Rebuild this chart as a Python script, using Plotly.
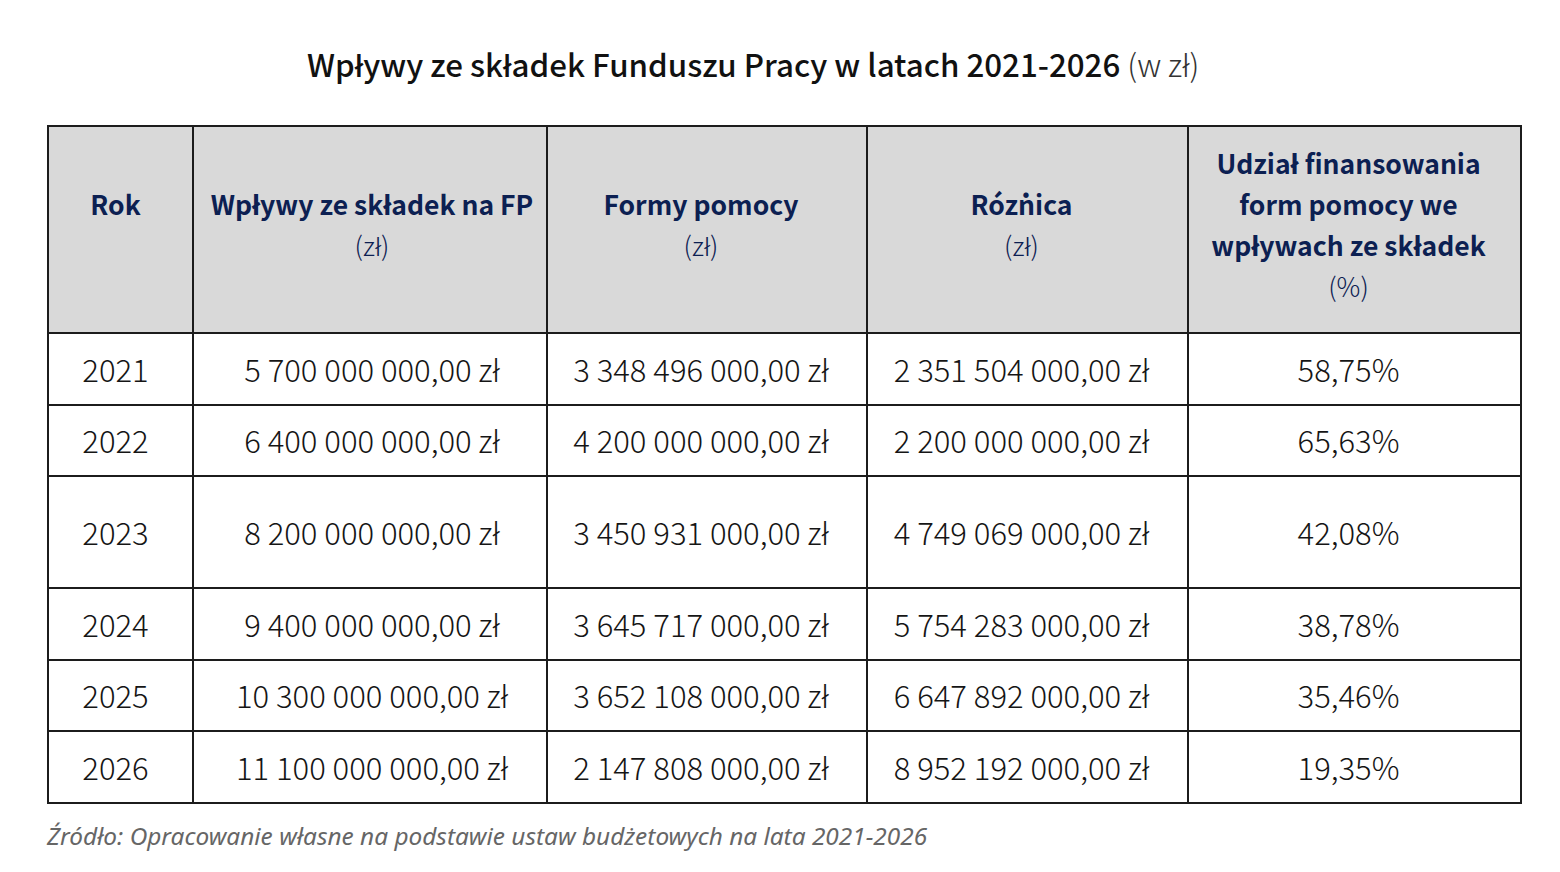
import plotly.graph_objects as go

years = ["2021", "2022", "2023", "2024", "2025", "2026"]
wplywy = ["5 700 000 000,00 zł", "6 400 000 000,00 zł", "8 200 000 000,00 zł",
          "9 400 000 000,00 zł", "10 300 000 000,00 zł", "11 100 000 000,00 zł"]
formy = ["3 348 496 000,00 zł", "4 200 000 000,00 zł", "3 450 931 000,00 zł",
         "3 645 717 000,00 zł", "3 652 108 000,00 zł", "2 147 808 000,00 zł"]
roznica = ["2 351 504 000,00 zł", "2 200 000 000,00 zł", "4 749 069 000,00 zł",
           "5 754 283 000,00 zł", "6 647 892 000,00 zł", "8 952 192 000,00 zł"]
udzial = ["58,75%", "65,63%", "42,08%", "38,78%", "35,46%", "19,35%"]

header_titles = [["Rok"], ["Wpływy ze składek na FP"], ["Formy pomocy"], ["Różnica"],
                 ["Udział finansowania", "form pomocy we", "wpływach ze składek"]]
header_units = ["", "(zł)", "(zł)", "(zł)", "(%)"]

title = "Wpływy ze składek Funduszu Pracy w latach 2021-2026"
title_unit = "(w zł)"
source = "Źródło: Opracowanie własne na podstawie ustaw budżetowych na lata 2021-2026"

# layout of the grid (pixels, page coordinates)
W, H = 1560, 872
OFF = 8  # default body margin of the html page
x_left, y_top = 48, 126
col_w = [145, 354, 320, 321, 333]
text_dx = [-5, 2, -6, -6, -6]  # text sits a little left of centre in the original
header_h = 207
row_h = [72, 71, 112, 72, 71, 72]
line_gap = 41

FONT = "Noto Sans CJK JP, Noto Sans, sans-serif"
NAVY = "#0c2052"
LINE = "#1c1c1c"

col_edges = [x_left]
for w in col_w:
    col_edges.append(col_edges[-1] + w)
row_edges = [y_top, y_top + header_h]
for h in row_h:
    row_edges.append(row_edges[-1] + h)
col_mid = [(a + b) / 2 + d for a, b, d in zip(col_edges[:-1], col_edges[1:], text_dx)]
row_mid = [(a + b) / 2 for a, b in zip(row_edges[:-1], row_edges[1:])]

fig = go.Figure()

# cells
shapes = []
for r in range(len(row_edges) - 1):
    for c in range(len(col_w)):
        shapes.append(dict(
            type="rect", xref="x", yref="y", layer="below",
            x0=col_edges[c], x1=col_edges[c + 1], y0=row_edges[r], y1=row_edges[r + 1],
            fillcolor="#d9d9d9" if r == 0 else "white",
            line=dict(color=LINE, width=2),
        ))

# header text, one line at a time so the line spacing matches
hx, hy, ht = [], [], []
for c, (lines, unit) in enumerate(zip(header_titles, header_units)):
    all_lines = [f"<b>{s}</b>" for s in lines]
    all_lines.append(f"<span style='font-weight:300'>{unit}</span>" if unit else "")
    n = len(all_lines)
    for i, s in enumerate(all_lines):
        if not s:
            continue
        hx.append(col_mid[c])
        hy.append(row_mid[0] - 1 + (i - (n - 1) / 2) * line_gap)
        ht.append(s)
fig.add_trace(go.Scatter(
    x=hx, y=hy, mode="text", text=ht, textposition="middle center",
    textfont=dict(family=FONT, size=26.5, color=NAVY),
    hoverinfo="skip", showlegend=False,
))

# body text
columns = [years, wplywy, formy, roznica, udzial]
bx, by, bt = [], [], []
for c, col in enumerate(columns):
    for r, v in enumerate(col):
        bx.append(col_mid[c])
        by.append(row_mid[r + 1] + 5)
        bt.append(v)
fig.add_trace(go.Scatter(
    x=bx, y=by, mode="text", text=bt, textposition="middle center",
    textfont=dict(family=FONT, size=31, color="#151515", weight=300),
    hoverinfo="skip", showlegend=False,
))

fig.add_annotation(
    text=f"{title} <span style='color:#333;font-weight:300'>{title_unit}</span>",
    x=753, y=63, xref="x", yref="y", showarrow=False,
    font=dict(family=FONT, size=31.3, color="#111111", weight=500),
)
fig.add_annotation(
    text=f"<i>{source}</i>",
    x=44, y=835, xref="x", yref="y", xanchor="left", showarrow=False,
    font=dict(family="Noto Sans", size=24.4, color="#666666"),
)

fig.update_layout(
    width=W, height=H,
    margin=dict(l=0, r=0, t=0, b=0),
    paper_bgcolor="white", plot_bgcolor="white",
    shapes=shapes,
    xaxis=dict(range=[OFF, W + OFF], visible=False, fixedrange=True),
    yaxis=dict(range=[H + OFF, OFF], visible=False, fixedrange=True),
)

fig.write_html("out.html")
